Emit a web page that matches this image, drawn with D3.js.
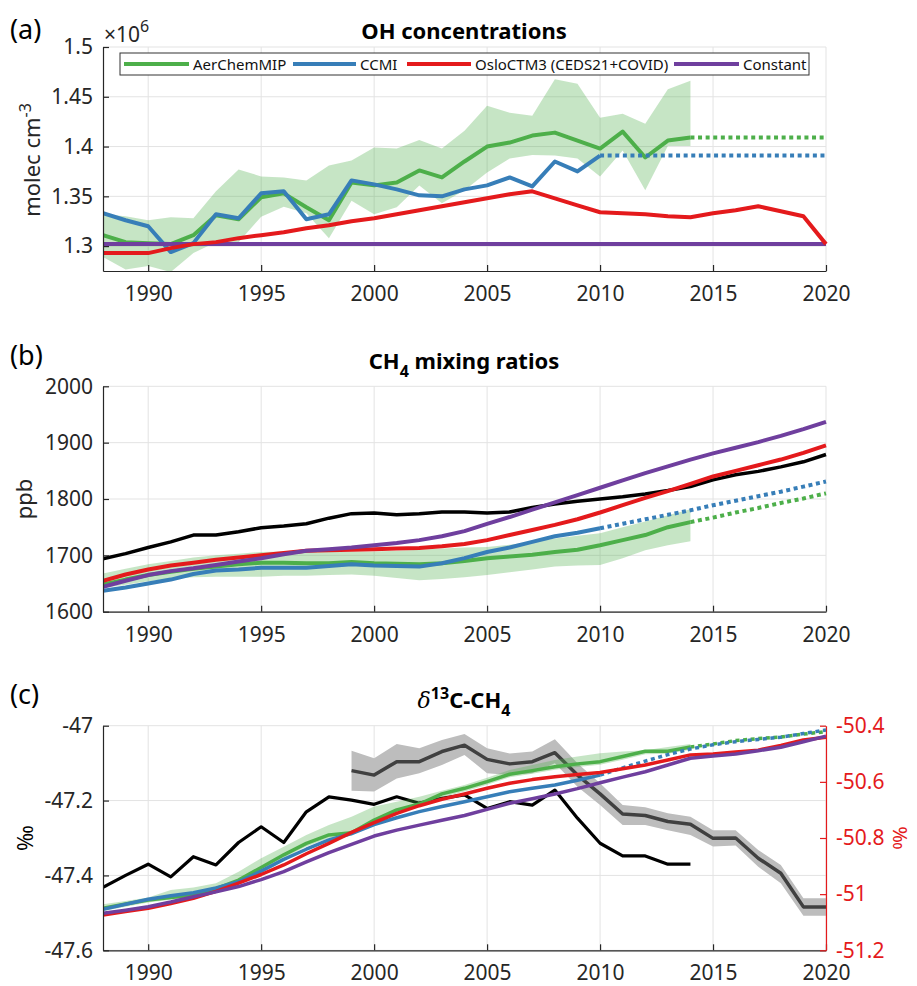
<!DOCTYPE html>
<html><head><meta charset="utf-8">
<script src="https://cdn.jsdelivr.net/npm/d3@7"></script>
<style>
html,body{margin:0;padding:0;background:#fff;}
text{font-family:"Noto Sans","Open Sans",sans-serif;}
</style></head>
<body><svg id="chart" width="917" height="986"></svg>
<script>
// ---------------- DATA ----------------
const xTicks = [1990, 1995, 2000, 2005, 2010, 2015, 2020];
const ticksA = [1.3, 1.35, 1.4, 1.45, 1.5];
const ticksB = [1600, 1700, 1800, 1900, 2000];
const ticksCLeft = [-47.6, -47.4, -47.2, -47];
const ticksCRight = [-51.2, -51, -50.8, -50.6, -50.4];
const legendNames = ["AerChemMIP", "CCMI", "OsloCTM3 (CEDS21+COVID)", "Constant"];

// Panel (a) OH concentrations (x 1e6 molec cm-3)
const yearsAer = [1988,1989,1990,1991,1992,1993,1994,1995,1996,1997,1998,1999,2000,2001,2002,2003,2004,2005,2006,2007,2008,2009,2010,2011,2012,2013,2014];
const yearsCCMI = [1988,1989,1990,1991,1992,1993,1994,1995,1996,1997,1998,1999,2000,2001,2002,2003,2004,2005,2006,2007,2008,2009,2010];
const yearsAll = [1988,1989,1990,1991,1992,1993,1994,1995,1996,1997,1998,1999,2000,2001,2002,2003,2004,2005,2006,2007,2008,2009,2010,2011,2012,2013,2014,2015,2016,2017,2018,2019,2020];
const yearsAerExt = [2014,2015,2016,2017,2018,2019,2020];
const yearsCCMIExt = [2010,2011,2012,2013,2014,2015,2016,2017,2018,2019,2020];

const ohAer = [1.311,1.304,1.303,1.302,1.311,1.331,1.327,1.349,1.353,1.339,1.326,1.364,1.361,1.364,1.376,1.369,1.385,1.400,1.404,1.411,1.414,1.406,1.398,1.415,1.389,1.406,1.409];
const ohAerMin = [1.289,1.2765,1.280,1.274,1.293,1.304,1.304,1.3295,1.3395,1.333,1.308,1.3455,1.332,1.339,1.361,1.343,1.356,1.374,1.388,1.3915,1.391,1.388,1.370,1.396,1.356,1.4005,1.4005];
const ohAerMax = [1.332,1.330,1.326,1.329,1.328,1.355,1.377,1.370,1.369,1.366,1.381,1.386,1.399,1.398,1.4065,1.398,1.416,1.441,1.434,1.431,1.4675,1.463,1.429,1.433,1.423,1.4575,1.466];
const ohAerExt = [1.409,1.409,1.409,1.409,1.409,1.409,1.409];
const ohCCMI = [1.333,1.326,1.320,1.294,1.303,1.332,1.328,1.353,1.355,1.327,1.332,1.366,1.362,1.357,1.351,1.350,1.357,1.361,1.369,1.360,1.385,1.375,1.391];
const ohCCMIExt = [1.391,1.391,1.391,1.391,1.391,1.391,1.391,1.391,1.391,1.391,1.391];
const ohOslo = [1.293,1.293,1.293,1.298,1.302,1.304,1.308,1.311,1.314,1.318,1.321,1.325,1.328,1.332,1.336,1.340,1.344,1.348,1.352,1.355,1.348,1.341,1.334,1.333,1.332,1.330,1.329,1.333,1.336,1.340,1.335,1.330,1.302];
const ohConst = [1.302,1.302,1.302,1.302,1.302,1.302,1.302,1.302,1.302,1.302,1.302,1.302,1.302,1.302,1.302,1.302,1.302,1.302,1.302,1.302,1.302,1.302,1.302,1.302,1.302,1.302,1.302,1.302,1.302,1.302,1.302,1.302,1.302];

// Panel (b) CH4 mixing ratios (ppb)
const ch4Obs = [1694,1703,1714,1724,1736,1736,1742,1749,1752,1756,1766,1774,1775,1772,1774,1777,1777,1775,1777,1785,1791,1796,1800,1804,1809,1815,1822,1834,1843,1849,1857,1866,1879];
const ch4Aer = [1648,1657,1665,1671,1676,1680,1684,1687,1687,1686,1686,1688,1686,1685,1684,1686,1690,1695,1698,1701,1706,1710,1718,1727,1736,1750,1759];
const ch4AerMin = [1642,1648,1654,1658,1661,1662,1662,1662,1664,1664,1665,1666,1664,1660,1656,1658,1661,1665,1670,1675,1680,1682,1683,1695,1709,1718,1725];
const ch4AerMax = [1668,1676,1684,1690,1696,1700,1703,1706,1707,1706,1706,1707,1707,1708,1710,1712,1714,1715,1719,1724,1730,1735,1739,1750,1760,1771,1782];
const ch4AerExt = [1759,1767,1776,1784,1793,1801,1810];
const ch4CCMI = [1637,1643,1650,1657,1667,1673,1675,1678,1678,1678,1681,1684,1682,1681,1680,1686,1695,1706,1714,1724,1734,1740,1748];
const ch4CCMIExt = [1748,1756,1764,1772,1780,1789,1797,1805,1813,1822,1831];
const ch4Oslo = [1655,1666,1675,1682,1687,1692,1696,1700,1704,1708,1709,1710,1711,1712,1713,1716,1720,1727,1736,1745,1754,1764,1776,1789,1802,1814,1827,1840,1850,1860,1870,1882,1895];
const ch4Const = [1644,1655,1665,1672,1677,1683,1689,1695,1702,1708,1711,1714,1718,1722,1727,1734,1743,1756,1768,1781,1794,1807,1820,1833,1846,1858,1870,1881,1891,1901,1912,1924,1937];

// Panel (c) d13C-CH4 (permil). Observations on left axis, model runs on right axis.
const yearsObs1 = [1988,1989,1990,1991,1992,1993,1994,1995,1996,1997,1998,1999,2000,2001,2002,2003,2004,2005,2006,2007,2008,2009,2010,2011,2012,2013,2014];
const yearsObs2 = [1999,2000,2001,2002,2003,2004,2005,2006,2007,2008,2009,2010,2011,2012,2013,2014,2015,2016,2017,2018,2019,2020];
const d13Obs1 = [-47.432,-47.400,-47.370,-47.404,-47.350,-47.372,-47.312,-47.270,-47.312,-47.230,-47.190,-47.199,-47.210,-47.190,-47.207,-47.194,-47.185,-47.221,-47.203,-47.212,-47.172,-47.247,-47.314,-47.348,-47.348,-47.370,-47.370];
const d13Obs2 = [-47.120,-47.132,-47.096,-47.096,-47.069,-47.052,-47.090,-47.102,-47.096,-47.072,-47.132,-47.182,-47.236,-47.240,-47.256,-47.263,-47.301,-47.300,-47.354,-47.394,-47.484,-47.484];
const d13Obs2Max = [-47.067,-47.087,-47.049,-47.060,-47.038,-47.022,-47.060,-47.074,-47.069,-47.036,-47.100,-47.154,-47.212,-47.218,-47.234,-47.243,-47.279,-47.279,-47.332,-47.372,-47.461,-47.461];
const d13Obs2Min = [-47.174,-47.176,-47.141,-47.127,-47.105,-47.078,-47.127,-47.132,-47.127,-47.100,-47.163,-47.212,-47.265,-47.265,-47.279,-47.292,-47.323,-47.320,-47.377,-47.421,-47.508,-47.508];
const d13Aer = [-51.050,-51.035,-51.021,-51.012,-51.003,-50.980,-50.950,-50.905,-50.860,-50.819,-50.789,-50.781,-50.736,-50.700,-50.679,-50.643,-50.623,-50.599,-50.573,-50.560,-50.546,-50.536,-50.528,-50.510,-50.491,-50.491,-50.476];
const d13AerMax = [-51.036,-51.024,-51.012,-50.985,-50.976,-50.961,-50.920,-50.872,-50.831,-50.789,-50.754,-50.724,-50.688,-50.671,-50.653,-50.632,-50.611,-50.585,-50.558,-50.540,-50.522,-50.510,-50.498,-50.492,-50.487,-50.476,-50.465];
const d13AerMin = [-51.060,-51.045,-51.030,-51.020,-51.010,-50.988,-50.958,-50.915,-50.870,-50.830,-50.800,-50.792,-50.748,-50.712,-50.690,-50.655,-50.634,-50.610,-50.584,-50.571,-50.557,-50.547,-50.539,-50.521,-50.502,-50.500,-50.486];
const d13AerExt = [-50.476,-50.465,-50.453,-50.446,-50.440,-50.430,-50.421];
const d13CCMI = [-51.054,-51.036,-51.018,-51.006,-50.995,-50.978,-50.956,-50.918,-50.876,-50.840,-50.807,-50.784,-50.752,-50.728,-50.706,-50.688,-50.671,-50.653,-50.635,-50.623,-50.611,-50.594,-50.576];
const d13CCMIExt = [-50.576,-50.550,-50.526,-50.503,-50.483,-50.468,-50.457,-50.449,-50.441,-50.428,-50.415];
const d13Oslo = [-51.074,-51.062,-51.050,-51.033,-51.015,-50.990,-50.961,-50.930,-50.896,-50.856,-50.819,-50.780,-50.745,-50.712,-50.685,-50.662,-50.643,-50.623,-50.605,-50.592,-50.582,-50.574,-50.567,-50.553,-50.540,-50.522,-50.504,-50.501,-50.494,-50.487,-50.470,-50.451,-50.441];
const d13Const = [-51.068,-51.057,-51.045,-51.028,-51.009,-50.992,-50.973,-50.948,-50.920,-50.885,-50.852,-50.823,-50.793,-50.772,-50.754,-50.737,-50.720,-50.698,-50.676,-50.660,-50.643,-50.624,-50.603,-50.583,-50.564,-50.540,-50.516,-50.508,-50.501,-50.489,-50.477,-50.457,-50.437];

// ---------------- STYLE ----------------
const C = {green:"#4daf4a", blue:"#377eb8", red:"#e41a1c", purple:"#6f3f9e", black:"#000", gray:"#404040", band:"#bdbdbd"};
const axisCol = "#262626", gridCol = "#e3e3e3";
const tickFont = 21;

const svg = d3.select("#chart");
const x = d3.scaleLinear().domain([1988, 2020]).range([103, 826]);

const zip = (xs, ys) => xs.map((v, i) => [v, ys[i]]);

function panel(top, bottom, domain, ticks) {
  const y = d3.scaleLinear().domain(domain).range([bottom, top]);
  const g = svg.append("g");
  g.selectAll(".vg").data(xTicks).join("line")
    .attr("x1", d => x(d)).attr("x2", d => x(d)).attr("y1", top).attr("y2", bottom)
    .attr("stroke", gridCol).attr("stroke-width", 1);
  g.selectAll(".hg").data(ticks).join("line")
    .attr("x1", x.range()[0]).attr("x2", x.range()[1]).attr("y1", d => y(d)).attr("y2", d => y(d))
    .attr("stroke", gridCol).attr("stroke-width", 1);
  return {y, g};
}

function drawAxes(P, ticks, bottom) {
  const ax = svg.append("g").attr("transform", `translate(0,${bottom})`)
    .call(d3.axisBottom(x).tickValues(xTicks).tickFormat(d => String(d)).tickSizeInner(-6).tickSizeOuter(0).tickPadding(15));
  const ay = svg.append("g").attr("transform", `translate(${x.range()[0]},0)`)
    .call(d3.axisLeft(P.y).tickValues(ticks).tickFormat(d => String(d)).tickSizeInner(-6).tickSizeOuter(0).tickPadding(10));
  [ax, ay].forEach(a => {
    a.select(".domain").attr("stroke", axisCol).attr("stroke-width", 1.2);
    a.selectAll(".tick line").attr("stroke", axisCol).attr("stroke-width", 1.2);
    a.selectAll("text").attr("fill", axisCol).style("font-size", tickFont + "px").style("font-family", '"Noto Sans", sans-serif');
  });
}

function line(P, xs, ys, color, width, dotted, yScale) {
  const yy = yScale || P.y;
  const p = P.layer.append("path").datum(zip(xs, ys))
    .attr("d", d3.line().x(d => x(d[0])).y(d => yy(d[1])))
    .attr("fill", "none").attr("stroke", color).attr("stroke-width", width)
    .attr("stroke-linejoin", "round").attr("stroke-linecap", "butt");
  if (dotted) p.attr("stroke-dasharray", "4,3.6");
  return p;
}
function band(P, xs, lo, hi, color, opacity, yScale) {
  const yy = yScale || P.y;
  P.layer.append("path").datum(xs.map((v, i) => [v, lo[i], hi[i]]))
    .attr("d", d3.area().x(d => x(d[0])).y0(d => yy(d[1])).y1(d => yy(d[2])))
    .attr("fill", color).attr("fill-opacity", opacity).attr("stroke", "none");
}
function clipFor(id, top, bottom) {
  svg.append("clipPath").attr("id", id).append("rect")
    .attr("x", x.range()[0]).attr("y", top).attr("width", x.range()[1] - x.range()[0] + 3).attr("height", bottom - top);
}

function label(txt, xx, yy, size, opts = {}) {
  const t = svg.append("text").attr("x", xx).attr("y", yy).style("font-size", size + "px")
    .attr("fill", opts.fill || "#000").attr("text-anchor", opts.anchor || "start");
  if (opts.bold) t.style("font-weight", "bold");
  if (opts.rotate) t.attr("transform", `rotate(${opts.rotate},${xx},${yy})`);
  if (txt) t.text(txt);
  return t;
}

// ---------------- PANEL (a) ----------------
const A = panel(47, 271, [1.275, 1.5], ticksA);
clipFor("clipA", 47, 271);
A.layer = svg.append("g").attr("clip-path", "url(#clipA)");
band(A, yearsAer, ohAerMin, ohAerMax, C.green, 0.32);
line(A, yearsAer, ohAer, C.green, 4);
line(A, yearsAerExt, ohAerExt, C.green, 4, true);
line(A, yearsCCMI, ohCCMI, C.blue, 4);
line(A, yearsCCMIExt, ohCCMIExt, C.blue, 4, true);
line(A, yearsAll, ohConst, C.purple, 4);
line(A, yearsAll, ohOslo, C.red, 4);
drawAxes(A, ticksA, 271);

// legend
const lg = svg.append("g");
lg.append("rect").attr("x", 120).attr("y", 53).attr("width", 689).attr("height", 22)
  .attr("fill", "#fff").attr("stroke", "#333").attr("stroke-width", 1);
const legItems = [
  {c: C.green, x1: 124, x2: 189, tx: 193},
  {c: C.blue, x1: 293, x2: 356, tx: 360},
  {c: C.red, x1: 407, x2: 471, tx: 475},
  {c: C.purple, x1: 674, x2: 739, tx: 743}
];
legItems.forEach((it, i) => {
  lg.append("line").attr("x1", it.x1).attr("x2", it.x2).attr("y1", 64).attr("y2", 64)
    .attr("stroke", it.c).attr("stroke-width", 4);
  lg.append("text").attr("x", it.tx).attr("y", 70).style("font-size", "15px").attr("fill", "#111").text(legendNames[i]);
});

label("(a)", 10, 39, 27);
label("OH concentrations", 464, 39, 22, {bold: true, anchor: "middle"});
const e6 = label("", 104, 42, 21, {fill: axisCol});
e6.append("tspan").text("×10");
e6.append("tspan").attr("dy", -10).style("font-size", "16px").text("6");
const ylA = label("", 40, 160, 22, {anchor: "middle", rotate: -90, fill: axisCol});
ylA.append("tspan").text("molec cm");
ylA.append("tspan").attr("dy", -9).style("font-size", "16px").text("-3");

// ---------------- PANEL (b) ----------------
const B = panel(386.3, 611.7, [1600, 2000], ticksB);
clipFor("clipB", 386.3, 611.7);
B.layer = svg.append("g").attr("clip-path", "url(#clipB)");
band(B, yearsAer, ch4AerMin, ch4AerMax, C.green, 0.32);
line(B, yearsAll, ch4Obs, C.black, 3.5);
line(B, yearsAer, ch4Aer, C.green, 4);
line(B, yearsAerExt, ch4AerExt, C.green, 4, true);
line(B, yearsCCMI, ch4CCMI, C.blue, 4);
line(B, yearsCCMIExt, ch4CCMIExt, C.blue, 4, true);
line(B, yearsAll, ch4Oslo, C.red, 4);
line(B, yearsAll, ch4Const, C.purple, 4);
drawAxes(B, ticksB, 611.7);

label("(b)", 10, 365, 27);
const tB = label("", 464, 369, 22, {bold: true, anchor: "middle"});
tB.append("tspan").text("CH");
tB.append("tspan").attr("dy", 8).style("font-size", "16px").text("4");
tB.append("tspan").attr("dy", -8).text(" mixing ratios");
label("ppb", 32, 499, 22, {anchor: "middle", rotate: -90, fill: axisCol});

// ---------------- PANEL (c) ----------------
const Cp = panel(725.7, 950.3, [-47.6, -47], ticksCLeft);
const yR = d3.scaleLinear().domain([-51.2, -50.4]).range([950.3, 725.7]);
clipFor("clipC", 725.7, 950.3);
Cp.layer = svg.append("g").attr("clip-path", "url(#clipC)");
band(Cp, yearsObs2, d13Obs2Min, d13Obs2Max, C.band, 1);
line(Cp, yearsObs2, d13Obs2, C.gray, 3.5);
line(Cp, yearsObs1, d13Obs1, C.black, 3.2);
band(Cp, yearsAer, d13AerMin, d13AerMax, C.green, 0.32, yR);
line(Cp, yearsAer, d13Aer, C.green, 3.5, false, yR);
line(Cp, yearsAerExt, d13AerExt, C.green, 3.5, true, yR);
line(Cp, yearsCCMI, d13CCMI, C.blue, 3.5, false, yR);
line(Cp, yearsCCMIExt, d13CCMIExt, C.blue, 3.5, true, yR);
line(Cp, yearsAll, d13Oslo, C.red, 3.5, false, yR);
line(Cp, yearsAll, d13Const, C.purple, 3.5, false, yR);
drawAxes(Cp, ticksCLeft, 950.3);
const ar = svg.append("g").attr("transform", `translate(${x.range()[1]},0)`)
  .call(d3.axisRight(yR).tickValues(ticksCRight).tickFormat(d => String(d)).tickSizeInner(-6).tickSizeOuter(0).tickPadding(10));
ar.select(".domain").attr("stroke", C.red).attr("stroke-width", 1.2);
ar.selectAll(".tick line").attr("stroke", C.red).attr("stroke-width", 1.2);
ar.selectAll("text").attr("fill", C.red).style("font-size", tickFont + "px").style("font-family", '"Noto Sans", sans-serif');

label("(c)", 10, 704, 27);
const tC = label("", 464, 708, 22, {bold: true, anchor: "middle"});
tC.append("tspan").style("font-style", "italic").style("font-weight", "normal").style("font-family", '"DejaVu Serif", serif').text("δ");
tC.append("tspan").attr("dy", -9).style("font-size", "16px").text("13");
tC.append("tspan").attr("dy", 9).text("C-CH");
tC.append("tspan").attr("dy", 8).style("font-size", "16px").text("4");
label("‰", 33, 838, 22, {anchor: "middle", rotate: -90, fill: "#000"});
label("‰", 893, 838, 20, {anchor: "middle", rotate: 90, fill: C.red});
</script></body></html>
